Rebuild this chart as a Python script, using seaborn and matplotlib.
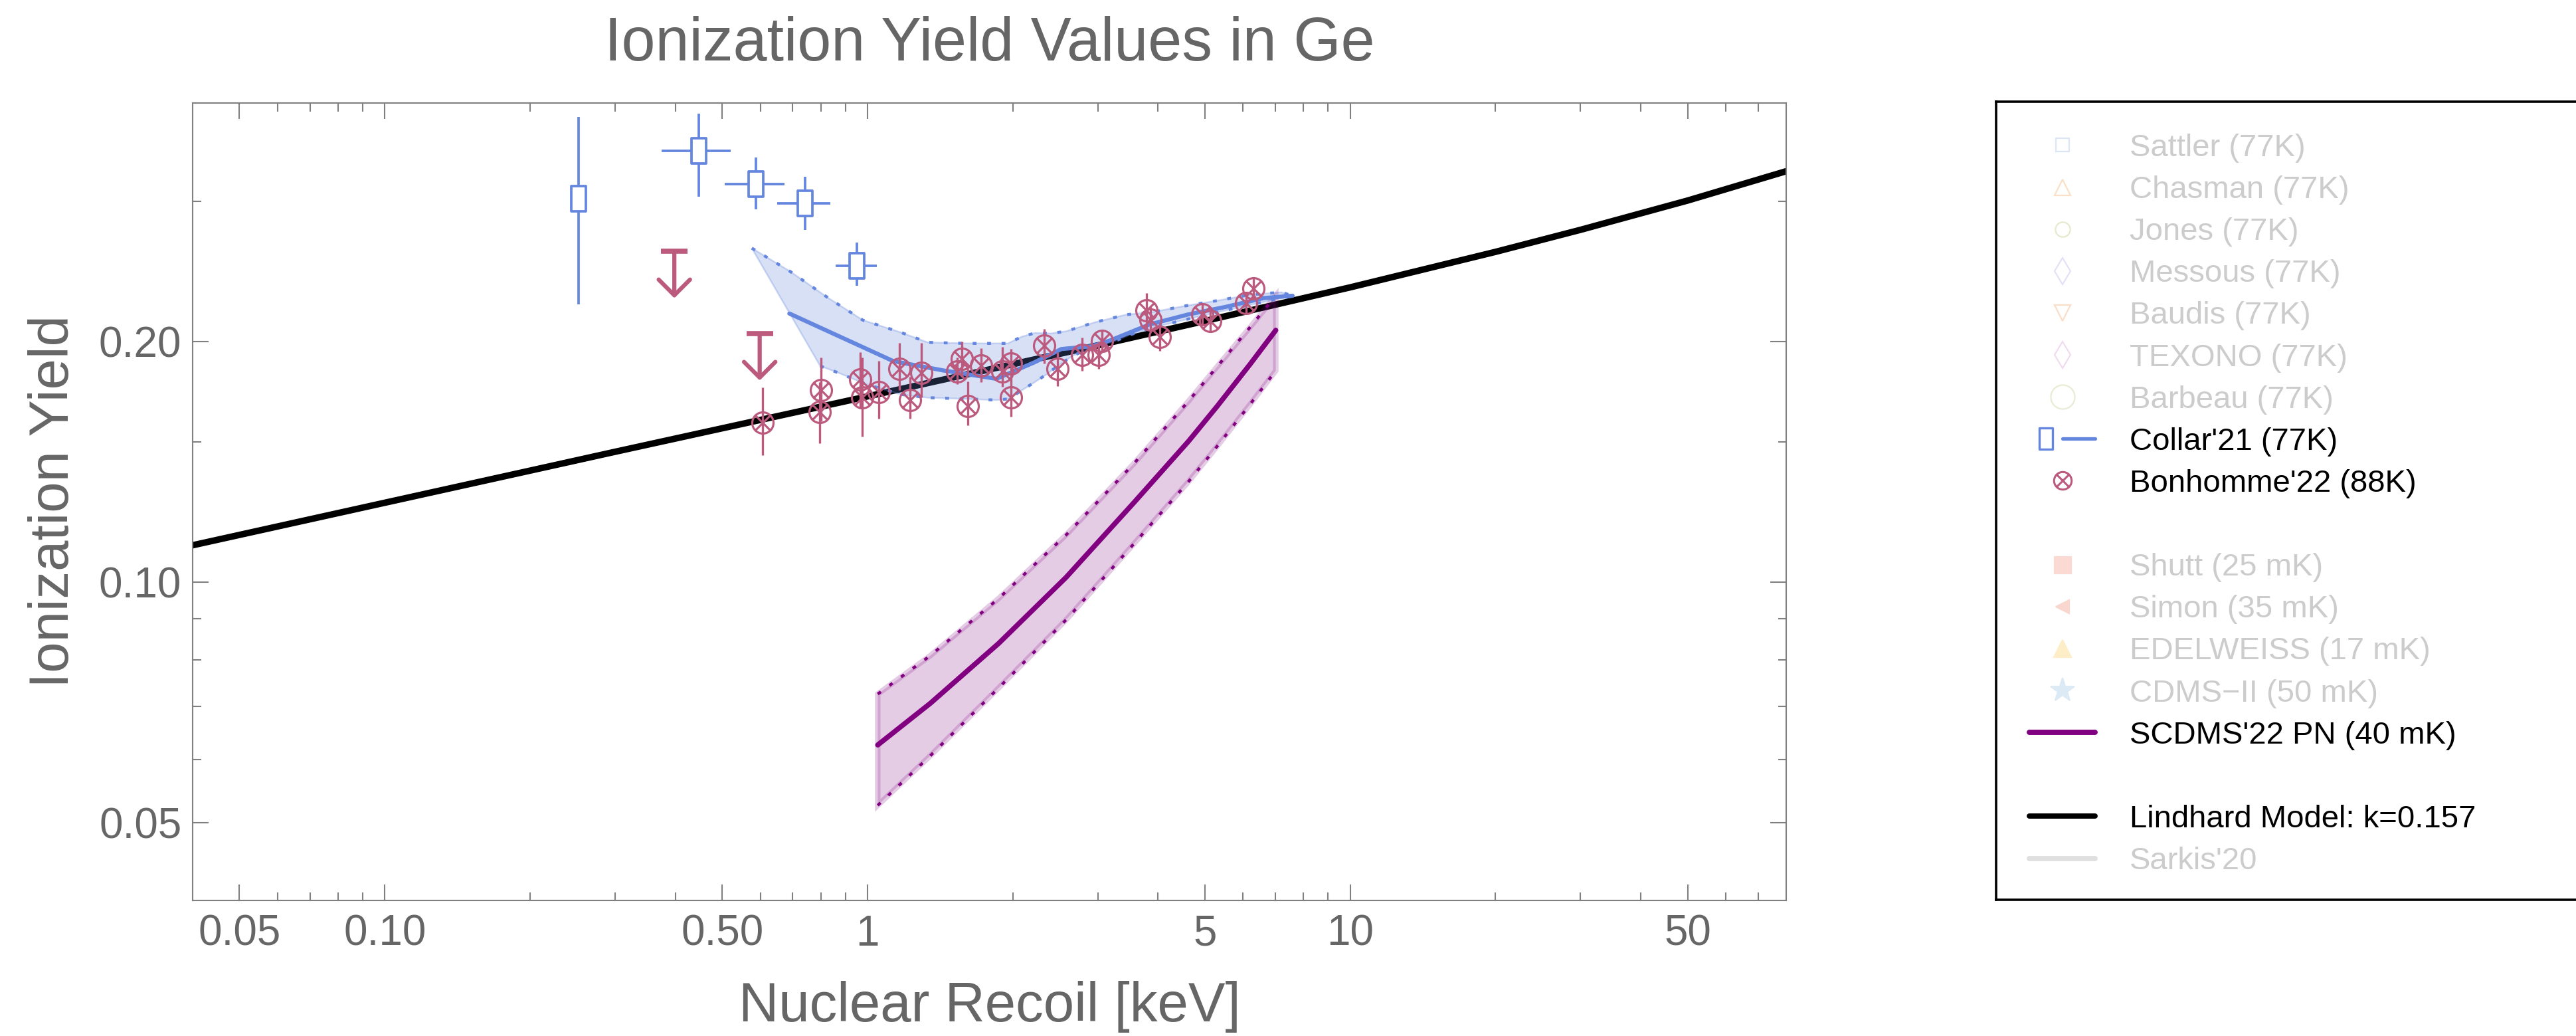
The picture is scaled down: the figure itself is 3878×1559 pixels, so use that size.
import matplotlib
matplotlib.use("Agg")
import numpy as np
import matplotlib.pyplot as plt
from matplotlib.path import Path
from matplotlib.lines import Line2D
from matplotlib.legend_handler import HandlerTuple
from matplotlib.ticker import FixedLocator, FixedFormatter, NullFormatter
import seaborn as sns

# ---------------------------------------------------------------- data
# Lindhard model, k = 0.157
lindhard_E = [0.04, 0.1, 0.2, 0.3, 0.5, 1, 2, 3, 5, 10, 20, 30, 50, 80]
lindhard_Y = [0.1113, 0.1258, 0.1380, 0.1457, 0.1559, 0.1709, 0.1875, 0.1980,
              0.2124, 0.2340, 0.2592, 0.2762, 0.3005, 0.3270]

# Collar'21 (77 K): points with energy and yield ranges
collar_E = [0.252, 0.447, 0.588, 0.743, 0.952]
collar_E_lo = [0.252, 0.375, 0.506, 0.651, 0.859]
collar_E_hi = [0.252, 0.521, 0.673, 0.837, 1.047]
collar_Y = [0.302, 0.347, 0.315, 0.298, 0.249]
collar_Y_lo = [0.223, 0.304, 0.293, 0.276, 0.235]
collar_Y_hi = [0.382, 0.386, 0.340, 0.322, 0.266]

# Collar'21 best fit and its uncertainty band
collar_fit_E = [0.689, 1.131, 1.434, 1.850, 2.220, 2.522, 2.918, 3.195, 3.834,
                4.600, 5.521, 6.623, 7.595]
collar_fit_Y = [0.2170, 0.1892, 0.1842, 0.1798, 0.1886, 0.1959, 0.1975, 0.2010,
                0.2102, 0.2163, 0.2212, 0.2269, 0.2284]
collar_up_E = [0.576, 0.692, 0.830, 0.978, 1.173, 1.332, 1.600, 1.954, 2.088, 2.225,
               2.396, 2.580, 2.961, 3.434, 3.855, 4.568, 5.299, 6.209, 7.200, 7.595]
collar_up_Y = [0.2620, 0.2449, 0.2269, 0.2129, 0.2055, 0.1997, 0.1991, 0.1991, 0.2030,
               0.2052, 0.2049, 0.2062, 0.2116, 0.2163, 0.2177, 0.2219, 0.2252, 0.2291,
               0.2307, 0.2284]
collar_lo_E = [0.798, 0.877, 0.996, 1.173, 1.332, 1.599, 1.850, 1.960, 2.077, 2.202,
               2.346, 2.500, 2.664, 2.869, 3.256, 3.507, 3.855, 4.600, 5.521, 6.871,
               7.595]
collar_lo_Y = [0.1866, 0.1826, 0.1769, 0.1719, 0.1703, 0.1697, 0.1691, 0.1697, 0.1736,
               0.1775, 0.1820, 0.1873, 0.1922, 0.1959, 0.2004, 0.2042, 0.2080, 0.2135,
               0.2190, 0.2255, 0.2284]

# Bonhomme'22 (88 K)
bon_E = [0.606, 0.802, 0.796, 0.965, 0.975, 1.055, 1.166, 1.224, 1.293, 1.570,
         1.536, 1.612, 1.721, 1.905, 1.985, 1.982, 2.323, 2.479, 2.779, 3.008,
         3.056, 3.780, 3.853, 4.029, 4.935, 5.128, 6.085, 6.301]
bon_Y = [0.1585, 0.1739, 0.1635, 0.1793, 0.1703, 0.1730, 0.1849, 0.1690, 0.1829,
         0.1903, 0.1838, 0.1663, 0.1870, 0.1838, 0.1879, 0.1703, 0.1978, 0.1850,
         0.1928, 0.1928, 0.2004, 0.2188, 0.2132, 0.2029, 0.2163, 0.2126, 0.2237,
         0.2331]
bon_Y_lo = [0.1444, 0.1590, 0.1494, 0.1650, 0.1523, 0.1602, 0.1741, 0.1602, 0.1703,
            0.1810, 0.1771, 0.1574, 0.1780, 0.1757, 0.1800, 0.1612, 0.1880, 0.1760,
            0.1840, 0.1850, 0.1940, 0.2080, 0.2060, 0.1950, 0.2100, 0.2060, 0.2170,
            0.2260]
bon_Y_hi = [0.1753, 0.1912, 0.1780, 0.1940, 0.1910, 0.1892, 0.1995, 0.1809, 0.1995,
            0.2002, 0.1910, 0.1783, 0.1963, 0.1972, 0.1960, 0.1800, 0.2074, 0.1940,
            0.2023, 0.2000, 0.2066, 0.2304, 0.2210, 0.2110, 0.2230, 0.2190, 0.2300,
            0.2400]
# Bonhomme'22 upper limits
bon_ul_E = [0.398, 0.598]
bon_ul_Y = [0.2595, 0.2047]

# SCDMS'22 PN (40 mK) with its band
scdms_E = [1.05, 1.35, 1.87, 2.58, 3.57, 4.62, 5.30, 6.21, 7.01]
scdms_Y = [0.0626, 0.0706, 0.0839, 0.1015, 0.1260, 0.1501, 0.1661, 0.1877, 0.2068]
scdms_hi = [0.0725, 0.0810, 0.0955, 0.1147, 0.1410, 0.1685, 0.1862, 0.2088, 0.2285]
scdms_lo = [0.0526, 0.0607, 0.0738, 0.0898, 0.1119, 0.1336, 0.1480, 0.1672, 0.1840]

# Axis ticks
x_major = [0.05, 0.1, 0.5, 1, 5, 10, 50]
x_major_labels = ["0.05", "0.10", "0.50", "1", "5", "10", "50"]
x_minor = [0.06, 0.07, 0.08, 0.09, 0.2, 0.3, 0.4, 0.6, 0.7, 0.8, 0.9,
           2, 3, 4, 6, 7, 8, 9, 20, 30, 40, 60, 70]
y_major = [0.05, 0.1, 0.2]
y_major_labels = ["0.05", "0.10", "0.20"]
y_minor = [0.06, 0.07, 0.08, 0.09, 0.15, 0.3]

# Legend entries
legend_labels = ["Sattler (77K)", "Chasman (77K)", "Jones (77K)", "Messous (77K)",
                 "Baudis (77K)", "TEXONO (77K)", "Barbeau (77K)", "Collar'21 (77K)",
                 "Bonhomme'22 (88K)", " ", "Shutt (25 mK)", "Simon (35 mK)",
                 "EDELWEISS (17 mK)", "CDMS\u2212II (50 mK)", "SCDMS'22 PN (40 mK)", " ",
                 "Lindhard Model: k=0.157", "Sarkis'20"]
legend_active = [False, False, False, False, False, False, False, True, True, False,
                 False, False, False, False, True, False, True, False]

# ---------------------------------------------------------------- style
sns.set_style("ticks")
plt.rcParams["font.family"] = ["Liberation Sans", "DejaVu Sans"]

BLUE = "#6486DE"
PINK = "#BC5A7E"
PURPLE = "#800080"
GREY_TXT = "#666666"
GREY_AX = "#808080"
DOTS = (0, (1.3, 3.6))

# tall open rectangle marker
rect_marker = Path([(-0.3, -0.5), (0.3, -0.5), (0.3, 0.5), (-0.3, 0.5), (-0.3, -0.5)],
                   [Path.MOVETO, Path.LINETO, Path.LINETO, Path.LINETO, Path.CLOSEPOLY])
# circle with a cross inside
_c = 0.7071
otimes_marker = Path.make_compound_path(
    Path.unit_circle(),
    Path([(-_c, -_c), (_c, _c)], [Path.MOVETO, Path.LINETO]),
    Path([(-_c, _c), (_c, -_c)], [Path.MOVETO, Path.LINETO]),
)

fig = plt.figure(figsize=(38.78, 15.59), dpi=100)
ax = fig.add_axes([0.07478, 0.13085, 0.61862, 0.76972])
ax.set_xscale("log")
ax.set_yscale("log")

# Lindhard model
sns.lineplot(x=lindhard_E, y=lindhard_Y, ax=ax, color="black", lw=7,
             sort=False, estimator=None, zorder=2)

# Collar'21 band
band_E = collar_up_E + collar_lo_E[::-1]
band_Y = collar_up_Y + collar_lo_Y[::-1]
ax.fill(band_E, band_Y, facecolor=BLUE, alpha=0.25, edgecolor="none", zorder=3)
ax.fill(band_E, band_Y, facecolor="none", edgecolor=BLUE, alpha=0.3, lw=1.8, zorder=3.1)
for e, y in ((collar_up_E, collar_up_Y), (collar_lo_E, collar_lo_Y)):
    ax.plot(e, y, color=BLUE, lw=3.2, ls=DOTS, zorder=3.2)
sns.lineplot(x=collar_fit_E, y=collar_fit_Y, ax=ax, color=BLUE, lw=4.5,
             sort=False, estimator=None, zorder=4)

# SCDMS'22 PN band
sc_poly_E = scdms_E + scdms_E[::-1]
sc_poly_Y = scdms_hi + scdms_lo[::-1]
ax.fill(sc_poly_E, sc_poly_Y, facecolor=PURPLE, alpha=0.2, edgecolor="none", zorder=3)
ax.fill(sc_poly_E, sc_poly_Y, facecolor="none", edgecolor=PURPLE, alpha=0.2, lw=6,
        zorder=3.1)
for y in (scdms_hi, scdms_lo):
    ax.plot(scdms_E, y, color=PURPLE, lw=3.2, ls=DOTS, zorder=3.2)
sns.lineplot(x=scdms_E, y=scdms_Y, ax=ax, color=PURPLE, lw=5.5,
             sort=False, estimator=None, zorder=4)

# Collar'21 points
cE = np.array(collar_E)
cY = np.array(collar_Y)
ax.errorbar(cE, cY,
            xerr=[cE - np.array(collar_E_lo), np.array(collar_E_hi) - cE],
            yerr=[cY - np.array(collar_Y_lo), np.array(collar_Y_hi) - cY],
            fmt="none", ecolor=BLUE, elinewidth=2.7, capsize=0, zorder=5)
ax.plot(cE, cY, ls="none", marker=rect_marker, ms=27, mfc="white", mec=BLUE,
        mew=2.7, zorder=5.1)

# Bonhomme'22 points
bE = np.array(bon_E)
bY = np.array(bon_Y)
ax.errorbar(bE, bY, yerr=[bY - np.array(bon_Y_lo), np.array(bon_Y_hi) - bY],
            fmt="none", ecolor=PINK, elinewidth=2.4, capsize=0, zorder=6)
ax.plot(bE, bY, ls="none", marker=otimes_marker, ms=23, mfc="none", mec=PINK,
        mew=2.3, zorder=6.1)

# Bonhomme'22 upper limits: bar with a downward arrow
for e, y in zip(bon_ul_E, bon_ul_Y):
    ax.plot([e], [y], marker="_", ms=29, mew=5.5, color=PINK, zorder=6)
    ax.annotate("", xy=(e, y * 0.874), xytext=(e, y),
                arrowprops=dict(arrowstyle="->,head_length=0.85,head_width=0.85",
                                mutation_scale=20, color=PINK, lw=4.5,
                                shrinkA=0, shrinkB=0),
                zorder=6)

# axes limits, ticks and labels
ax.set_xlim(0.04, 80)
ax.set_ylim(0.04, 0.398)
ax.xaxis.set_major_locator(FixedLocator(x_major))
ax.xaxis.set_major_formatter(FixedFormatter(x_major_labels))
ax.xaxis.set_minor_locator(FixedLocator(x_minor))
ax.xaxis.set_minor_formatter(NullFormatter())
ax.yaxis.set_major_locator(FixedLocator(y_major))
ax.yaxis.set_major_formatter(FixedFormatter(y_major_labels))
ax.yaxis.set_minor_locator(FixedLocator(y_minor))
ax.yaxis.set_minor_formatter(NullFormatter())
ax.tick_params(which="both", direction="in", top=True, right=True,
               color=GREY_AX, labelcolor=GREY_TXT, width=1.5)
ax.tick_params(which="major", length=17, labelsize=46)
ax.tick_params(axis="x", which="major", pad=15)
ax.tick_params(axis="y", which="major", pad=12)
ax.tick_params(which="minor", length=9)
for s in ax.spines.values():
    s.set_color(GREY_AX)
    s.set_linewidth(1.5)

ax.set_title("Ionization Yield Values in Ge", fontsize=66, color=GREY_TXT, pad=46)
ax.set_xlabel("Nuclear Recoil [keV]", fontsize=60, color=GREY_TXT, labelpad=29)
ax.set_ylabel("Ionization Yield", fontsize=60, color=GREY_TXT, labelpad=21)

# ---------------------------------------------------------------- legend panel
lax = fig.add_axes([0.77488, 0.1315, 0.2308, 0.7704])
lax.set_xticks([])
lax.set_yticks([])
for s in lax.spines.values():
    s.set_color("black")
    s.set_linewidth(2.6)

def pale(marker, color, ms, filled=False, mew=1.6):
    return Line2D([], [], ls="none", marker=marker, ms=ms, mew=mew,
                  mec=color, mfc=color if filled else "none")

blank = Line2D([], [], ls="none")
handles = [
    pale("s", "#dde4f6", 15),
    pale("^", "#fae0c6", 17),
    pale("o", "#e6e9cd", 16),
    pale("d", "#e2e2f6", 20),
    pale("v", "#fadec8", 17),
    pale("d", "#f0dcf0", 20),
    pale("o", "#e8ecd4", 26),
    (Line2D([], [], ls="none", marker=rect_marker, ms=23, mfc="none", mec=BLUE, mew=2.4),
     Line2D([], [], color=BLUE, lw=3.8)),
    Line2D([], [], ls="none", marker=otimes_marker, ms=19, mfc="none", mec=PINK, mew=2.2),
    blank,
    pale("s", "#fadad2", 18, filled=True),
    pale("<", "#f9d6ce", 15, filled=True),
    pale("^", "#fdeec8", 19, filled=True),
    pale("*", "#dceaf6", 27, filled=True),
    Line2D([], [], color=PURPLE, lw=5.7),
    blank,
    Line2D([], [], color="black", lw=5.7),
    Line2D([], [], color="#e0e0e0", lw=5.7),
]
leg = lax.legend(handles, legend_labels, loc="upper left", bbox_to_anchor=(0.056, 0.960),
                 frameon=False, fontsize=34, handlelength=2.1, handletextpad=1.1,
                 labelspacing=0.405, borderpad=0, borderaxespad=0, numpoints=1,
                 handler_map={tuple: HandlerTuple(ndivide=None, pad=0)})
for txt, active in zip(leg.get_texts(), legend_active):
    txt.set_color("black" if active else "#cccccc")

fig.savefig("out.png", dpi=100)
